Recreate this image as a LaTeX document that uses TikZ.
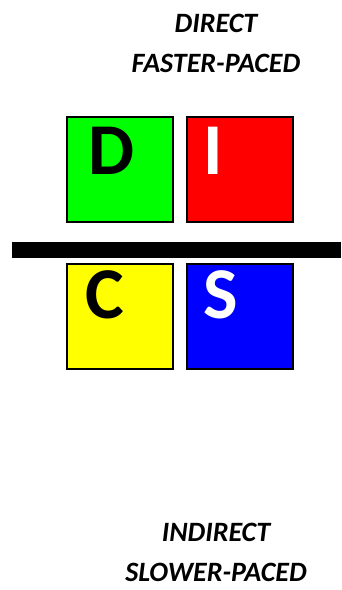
\documentclass[tikz,border=0pt]{standalone}
\usepackage{fontspec}
\setmainfont{Carlito}
\usetikzlibrary{positioning}

\begin{document}
\begin{tikzpicture}[
  x=1pt, y=-1pt,
  tile/.style={draw, line width=2pt, minimum width=106pt, minimum height=105pt,
               inner sep=0pt, outer sep=0pt},
  letter/.style={anchor=base west, inner sep=0pt,
                 font=\fontsize{73}{73}\selectfont\bfseries},
  caption/.style={align=center, inner sep=0pt,
                  font=\fontsize{28}{40}\selectfont\bfseries\itshape},
]
\useasboundingbox (0,0) rectangle (341,590);
% the four quadrants
\node[tile, fill={rgb,255:red,0;green,255;blue,0}] (d) at (120,169.5) {};
\node[tile, fill={rgb,255:red,255;green,0;blue,0}, right=14pt of d] (i) {};
\node[tile, fill={rgb,255:red,255;green,255;blue,0}, below=42pt of d] (c) {};
\node[tile, fill={rgb,255:red,0;green,0;blue,255}, right=14pt of c] (s) {};
\node[letter] (dl) at ([shift={(21,57)}]d.north west) {D};
\node[letter, white] (il) at ([shift={(16,57)}]i.north west) {I};
\node[letter] (cl) at ([shift={(18,54)}]c.north west) {C};
\node[letter, white] (sl) at ([shift={(16,54)}]s.north west) {S};
% divider
\fill (12,242) rectangle (341,258);
% axis labels
\node[caption, anchor=north] (top) at (216,14) {DIRECT\\FASTER-PACED};
\node[caption, anchor=north] (bot) at (216,523) {INDIRECT\\SLOWER-PACED};
\end{tikzpicture}
\end{document}
